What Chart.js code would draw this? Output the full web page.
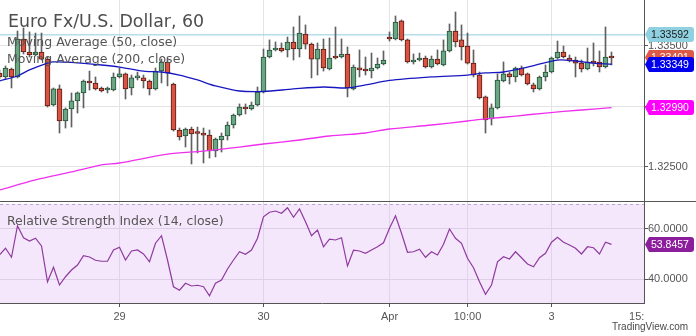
<!DOCTYPE html>
<html><head><meta charset="utf-8">
<script src="https://cdn.jsdelivr.net/npm/chart.js@4/dist/chart.umd.min.js"></script>
<style>
html,body{margin:0;padding:0;background:#fff;}
#wrap{position:relative;width:696px;height:336px;overflow:hidden;background:#fff;}
#c1{position:absolute;left:0;top:0;}
#c2{position:absolute;left:0;top:202px;}
#sep{position:absolute;left:0;top:201px;width:696px;height:1px;background:#555;}
.t{position:absolute;white-space:nowrap;color:#555;font-family:'DejaVu Sans',sans-serif;}
</style></head>
<body><div id="wrap">
<canvas id="c1" width="696" height="201"></canvas>
<div id="sep"></div>
<canvas id="c2" width="696" height="134"></canvas>
<div class="t" style="left:8px;top:13px;font-size:17.4px;line-height:17px;color:#4e4e4e;">Euro Fx/U.S. Dollar, 60</div>
<div class="t" style="left:7px;top:35.5px;font-size:12.5px;line-height:12.5px;">Moving Average (50, close)</div>
<div class="t" style="left:7px;top:53px;font-size:12.5px;line-height:12.5px;">Moving Average (200, close)</div>
<div class="t" style="left:7px;top:215px;font-size:12.5px;line-height:12.5px;">Relative Strength Index (14, close)</div>
<div class="t" style="left:612px;top:322px;font-size:10px;line-height:10px;font-family:'Liberation Sans',Arial,sans-serif;color:#4a4a4a;">TradingView.com</div>
</div>
<script>
// ---- data ----
const opens = [1.33277,1.33244,1.33310,1.33244,1.33558,1.33450,1.33426,1.33450,1.33392,1.33012,
1.33145,1.32880,1.32979,1.33046,1.33112,1.33211,1.33194,1.33153,1.33136,1.33136,
1.33244,1.33269,1.33153,1.33236,1.33236,1.33211,1.33145,1.33293,1.33368,1.33186,
1.32806,1.32756,1.32814,1.32781,1.32781,1.32764,1.32632,1.32723,1.32756,1.32847,
1.32930,1.32996,1.32979,1.33012,1.33120,1.33409,1.33467,1.33483,1.33467,1.33533,
1.33475,1.33599,1.33516,1.33392,1.33475,1.33310,1.33409,1.33409,1.33434,1.33145,
1.33318,1.33310,1.33293,1.33318,1.33351,1.33574,1.33558,1.33707,1.33550,1.33368,
1.33384,1.33401,1.33326,1.33392,1.33343,1.33459,1.33624,1.33550,1.33500,1.33359,
1.33260,1.33079,1.32897,1.32988,1.33211,1.33269,1.33244,1.33318,1.33269,1.33178,
1.33145,1.33244,1.33285,1.33401,1.33450,1.33401,1.33384,1.33359,1.33310,1.33368,
1.33368,1.33326,1.33413];
const highs = [1.33302,1.33335,1.33318,1.33624,1.33649,1.33616,1.33607,1.33607,1.33409,1.33153,
1.33178,1.32988,1.33112,1.33120,1.33219,1.33293,1.33244,1.33161,1.33161,1.33277,
1.33318,1.33277,1.33260,1.33285,1.33260,1.33219,1.33318,1.33392,1.33392,1.33194,
1.32822,1.32822,1.32830,1.32830,1.32822,1.32806,1.32740,1.32781,1.32872,1.32938,
1.33021,1.33021,1.33037,1.33161,1.33475,1.33550,1.33533,1.33525,1.33574,1.33657,
1.33748,1.33674,1.33525,1.33525,1.33558,1.33566,1.33657,1.33558,1.33492,1.33343,
1.33467,1.33409,1.33442,1.33401,1.33459,1.33616,1.33748,1.33715,1.33558,1.33434,
1.33442,1.33417,1.33417,1.33467,1.33550,1.33682,1.33781,1.33674,1.33607,1.33467,
1.33285,1.33087,1.33021,1.33269,1.33368,1.33285,1.33326,1.33335,1.33277,1.33194,
1.33252,1.33343,1.33409,1.33541,1.33500,1.33426,1.33409,1.33384,1.33483,1.33525,
1.33459,1.33657,1.33450];
const lows = [1.33227,1.33227,1.33153,1.33236,1.33434,1.33409,1.33417,1.33384,1.32996,1.33004,
1.32781,1.32822,1.32830,1.32946,1.32988,1.33136,1.33136,1.33120,1.33112,1.33128,
1.33236,1.33062,1.33095,1.33219,1.33153,1.33095,1.33136,1.33194,1.33170,1.32797,
1.32723,1.32665,1.32525,1.32616,1.32533,1.32574,1.32583,1.32624,1.32723,1.32822,
1.32921,1.32938,1.32971,1.33004,1.33112,1.33401,1.33459,1.33450,1.33409,1.33384,
1.33409,1.33475,1.33236,1.33260,1.33293,1.33302,1.33392,1.33401,1.33079,1.33136,
1.33244,1.33260,1.33236,1.33310,1.33343,1.33541,1.33550,1.33541,1.33359,1.33351,
1.33376,1.33318,1.33318,1.33343,1.33335,1.33450,1.33492,1.33384,1.33351,1.33244,
1.33062,1.32781,1.32847,1.32979,1.33203,1.33186,1.33203,1.33252,1.33178,1.33120,
1.33136,1.33211,1.33277,1.33392,1.33401,1.33368,1.33244,1.33285,1.33302,1.33335,
1.33285,1.33318,1.33343];
const closes = [1.33244,1.33318,1.33244,1.33558,1.33450,1.33426,1.33450,1.33392,1.33004,1.33145,
1.32880,1.32979,1.33046,1.33112,1.33211,1.33194,1.33145,1.33128,1.33145,1.33244,
1.33269,1.33145,1.33236,1.33240,1.33211,1.33145,1.33293,1.33368,1.33277,1.32806,
1.32748,1.32814,1.32773,1.32777,1.32764,1.32632,1.32731,1.32756,1.32847,1.32930,
1.32996,1.32979,1.33012,1.33120,1.33409,1.33467,1.33471,1.33459,1.33533,1.33475,
1.33607,1.33516,1.33392,1.33475,1.33318,1.33401,1.33401,1.33434,1.33153,1.33326,
1.33302,1.33293,1.33318,1.33351,1.33384,1.33558,1.33698,1.33550,1.33368,1.33384,
1.33401,1.33326,1.33392,1.33351,1.33459,1.33624,1.33533,1.33492,1.33359,1.33260,
1.33070,1.32888,1.32988,1.33219,1.33269,1.33244,1.33318,1.33260,1.33186,1.33145,
1.33244,1.33285,1.33401,1.33450,1.33409,1.33376,1.33359,1.33310,1.33368,1.33359,
1.33326,1.33409,1.33401];

const ma50Idx = [0,3,5,8,9,12,17,20,24,27,30,33,36,40,44,49,54,58,61,65,72,78,81,84,88,93,96,99,102];
const ma50 = [1.33211,1.33252,1.33302,1.33359,1.33368,1.33364,1.33343,1.33326,1.33293,1.33285,1.33260,1.33219,1.33170,1.33128,1.33124,1.33145,1.33161,1.33153,1.33178,1.33215,1.33244,1.33260,1.33277,1.33285,1.33326,1.33384,1.33376,1.33359,1.33349];
const ma200Idx = [0,6,12,17,20,28,34,40,44,50,55,61,65,72,78,81,86,91,97,102];
const ma200 = [1.32310,1.32393,1.32459,1.32517,1.32533,1.32607,1.32632,1.32665,1.32690,1.32723,1.32756,1.32781,1.32814,1.32847,1.32880,1.32897,1.32921,1.32946,1.32971,1.32990];

const rsi = [49.6,52.3,48.7,61.3,56.5,55.2,56.3,53.2,38.9,44.7,
37.6,40.9,43.6,45.6,49.3,48.8,47.5,47.1,47.1,51.6,
52.7,47.6,51.2,51.6,50.0,46.9,54.3,57.3,47.6,36.9,
35.5,38.3,37.2,37.5,36.9,33.3,38.3,39.6,44.0,47.6,
50.9,49.9,51.6,56.3,64.9,66.7,67.2,66.3,68.5,64.7,
68.0,62.9,57.3,59.6,52.9,55.9,55.6,56.5,45.2,51.5,
51.2,50.3,51.6,52.9,54.5,60.3,65.3,58.3,50.7,50.9,
51.9,48.7,50.9,49.6,53.9,60.0,56.3,54.3,48.3,44.5,
38.9,33.9,37.6,46.9,48.9,48.0,50.9,48.5,46.0,44.9,
48.5,50.3,54.7,56.7,54.7,53.6,52.3,50.0,52.9,52.5,
50.0,54.7,53.8457];

const hLineValue = 1.33592;
const priceTicks = [1.325, 1.330, 1.335];
const rsiTicks = [40, 60];
const rsiBand = [30, 70];
const xTickPos = [20, 44, 65, 78, 92, 106.2];
const xTickLabels = ['29', '30', 'Apr', '10:00', '3', '15:'];
const xRange = [1/12, 1/12 + 644/6];
const priceRange = [1.32219, 1.33880];
const rsiRange = [30.4, 70.8];

// ---- styling ----
const AXF = "'Liberation Sans', Arial, sans-serif";
const UP = '#6ba583', UPB = '#225437', DN = '#d75442', DNB = '#5b1a13';
const idx = opens.map((_, i) => i);
const last = closes.length - 1;

function noPadX(h) { return s => { s.height = h; s.paddingLeft = 0; s.paddingRight = 0; s.paddingTop = 0; s.paddingBottom = 0; }; }
function noPadY(w) { return s => { s.width = w; s.paddingTop = 0; s.paddingBottom = 0; s.paddingLeft = 0; s.paddingRight = 0; }; }

function drawTag(ctx, y, text, bg, fg) {
  const x0 = 645, x1 = 694, h = 15, r = 3;
  const top = Math.round(y - h / 2), bot = top + h;
  ctx.save();
  ctx.beginPath();
  ctx.moveTo(x0, top + h / 2);
  ctx.lineTo(x0 + 4, top);
  ctx.lineTo(x1 - r, top);
  ctx.arcTo(x1, top, x1, top + r, r);
  ctx.lineTo(x1, bot - r);
  ctx.arcTo(x1, bot, x1 - r, bot, r);
  ctx.lineTo(x0 + 4, bot);
  ctx.closePath();
  ctx.fillStyle = bg; ctx.fill();
  ctx.fillStyle = fg;
  ctx.font = '10.5px ' + AXF;
  ctx.textBaseline = 'middle';
  ctx.textAlign = 'left';
  ctx.fillText(text, 651, top + h / 2 + 0.5);
  ctx.restore();
}

const priceTags = [
  {v: hLineValue, bg: '#8fd0e1', fg: '#1a1a1a'},
  {v: closes[last], bg: '#dc5a47', fg: '#ffffff'},
  {v: ma50[ma50.length - 1], bg: '#0000ee', fg: '#ffffff'},
  {v: ma200[ma200.length - 1], bg: '#ff00ff', fg: '#ffffff'}
];

const tagPlugin = {
  id: 'tags',
  afterDraw(chart) {
    const ys = chart.scales.y;
    priceTags.forEach(t => drawTag(chart.ctx, ys.getPixelForValue(t.v), t.v.toFixed(5), t.bg, t.fg));
  }
};

new Chart(document.getElementById('c1'), {
  type: 'bar',
  data: {
    datasets: [
      {type: 'line', data: xRange.map(x => ({x, y: hLineValue})), borderColor: '#92cfe0', borderWidth: 1, pointRadius: 0, order: 5},
      {type: 'bar', data: idx.map(i => ({x: i, y: [lows[i], highs[i]]})), backgroundColor: '#606060', borderWidth: 0, barThickness: 1, grouped: false, order: 4},
      {type: 'bar', data: idx.map(i => ({x: i, y: [opens[i], closes[i]]})),
        backgroundColor: idx.map(i => closes[i] >= opens[i] ? UP : DN),
        borderColor: idx.map(i => closes[i] >= opens[i] ? UPB : DNB),
        borderWidth: 1, borderSkipped: false, barThickness: 5, minBarLength: 2, grouped: false, order: 3},
      {type: 'line', data: ma200Idx.map((x, i) => ({x, y: ma200[i]})), borderColor: '#ee30ee', borderWidth: 1.3, pointRadius: 0, tension: 0.3, order: 1},
      {type: 'line', data: ma50Idx.map((x, i) => ({x, y: ma50[i]})), borderColor: '#1818c0', borderWidth: 1.3, pointRadius: 0, tension: 0.3, order: 0}
    ]
  },
  options: {
    responsive: false, animation: false, devicePixelRatio: 1,
    layout: {padding: 0},
    plugins: {legend: {display: false}, tooltip: {enabled: false}},
    scales: {
      x: {type: 'linear', min: xRange[0], max: xRange[1], offset: false,
        afterFit: noPadX(0),
        afterBuildTicks: s => { s.ticks = xTickPos.slice(0, 5).map(v => ({value: v})); },
        ticks: {display: false},
        grid: {color: '#e4e4e4', drawTicks: false, offset: false},
        border: {display: false}},
      y: {position: 'right', min: priceRange[0], max: priceRange[1],
        afterFit: noPadY(52),
        afterBuildTicks: s => { s.ticks = priceTicks.map(v => ({value: v})); },
        ticks: {callback: v => Number(v).toFixed(5), color: '#555', font: {family: AXF, size: 11}, padding: 0},
        grid: {color: '#e4e4e4', tickColor: '#555', tickLength: 4},
        border: {color: '#555', width: 1}}
    }
  },
  plugins: [tagPlugin]
});

const bandPlugin = {
  id: 'band',
  beforeDraw(chart) {
    const {ctx, chartArea: a, scales: {y}} = chart;
    const t = y.getPixelForValue(rsiBand[1]);
    const b = Math.min(y.getPixelForValue(rsiBand[0]), a.bottom);
    ctx.save();
    ctx.fillStyle = '#f4e7fb';
    ctx.fillRect(a.left, t, a.right - a.left, b - t);
    ctx.strokeStyle = '#bba6cb';
    ctx.lineWidth = 1;
    ctx.setLineDash([3, 3]);
    ctx.beginPath();
    ctx.moveTo(a.left, Math.round(t) + 0.5);
    ctx.lineTo(a.right, Math.round(t) + 0.5);
    ctx.stroke();
    ctx.restore();
  },
  afterDraw(chart) {
    const v = rsi[rsi.length - 1];
    drawTag(chart.ctx, chart.scales.y.getPixelForValue(v), v.toFixed(4), '#8c1d9c', '#ffffff');
  }
};

new Chart(document.getElementById('c2'), {
  type: 'line',
  data: {datasets: [{data: rsi.map((v, i) => ({x: i, y: v})), borderColor: '#8e3a9e', borderWidth: 1.2, pointRadius: 0, tension: 0}]},
  options: {
    responsive: false, animation: false, devicePixelRatio: 1,
    layout: {padding: 0},
    plugins: {legend: {display: false}, tooltip: {enabled: false}},
    scales: {
      x: {type: 'linear', min: xRange[0], max: xRange[1], offset: false,
        afterFit: noPadX(33),
        afterBuildTicks: s => { s.ticks = xTickPos.map(v => ({value: v})); },
        ticks: {callback: (v, i) => xTickLabels[i], color: '#555', font: {family: AXF, size: 11}, padding: 3, maxRotation: 0, autoSkip: false},
        grid: {color: c => c.index === 5 ? 'rgba(0,0,0,0)' : '#e0d4ea', tickColor: c => c.index === 5 ? 'rgba(0,0,0,0)' : '#555', tickLength: 4},
        border: {color: '#555', width: 1}},
      y: {position: 'right', min: rsiRange[0], max: rsiRange[1],
        afterFit: noPadY(52),
        afterBuildTicks: s => { s.ticks = rsiTicks.map(v => ({value: v})); },
        ticks: {callback: v => Number(v).toFixed(4), color: '#555', font: {family: AXF, size: 11}, padding: 0},
        grid: {color: '#dccfe6', tickColor: '#555', tickLength: 4},
        border: {color: '#555', width: 1}}
    }
  },
  plugins: [bandPlugin]
});
</script>
</body></html>
